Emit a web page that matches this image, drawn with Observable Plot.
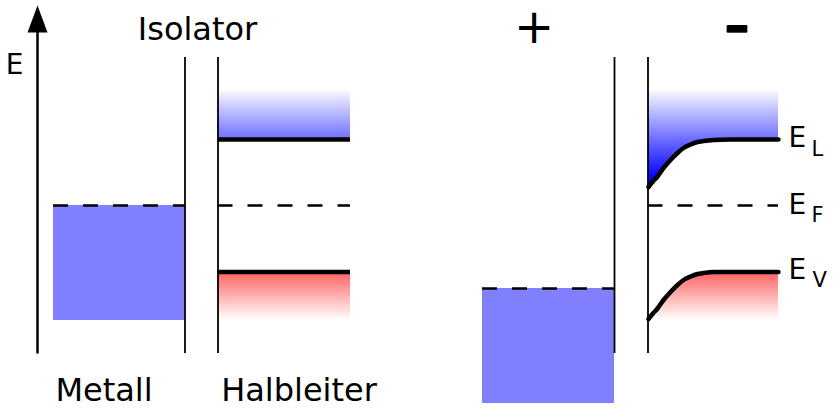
<!DOCTYPE html>
<html><head><meta charset="utf-8">
<script src="https://cdn.jsdelivr.net/npm/d3@7"></script>
<script src="https://cdn.jsdelivr.net/npm/@observablehq/plot@0.6"></script>
<style>body{margin:0;background:#fff}</style>
</head><body><div id="chart"></div>
<script>
// Energy axis "e" (arbitrary units, 0 = foot of the E arrow), position axis "x".
const axisArrow = [{x: 37, e: 0}, {x: 37, e: 320}];
const arrowHead = [{x: 27, e: 320}, {x: 37, e: 347}, {x: 47, e: 320}];

const wallX = [184.5, 217.5, 614, 647.5];
const wallTop = 295, wallBottom = -1;

const metalX1 = [53, 482];
const metalX2 = [184.5, 614];
const metalTop = [147, 64];
const metalBottom = [32, -51];

const fermiX1 = [53, 217.5, 482, 647.5];
const fermiX2 = [184.5, 350, 614, 778];
const fermiE = [147, 147, 64, 147];

// flat bands (left semiconductor)
const flatX1 = 217.5, flatX2 = 350;
const cbFlat = 213, vbFlat = 80.5;
const bandFadeTop = 262, bandFadeBottom = 32;

// bent bands (right semiconductor)
const bentX = [648, 652, 657, 663, 670, 677, 683, 690, 697, 703, 713, 730, 778];
const cbBent = [165.5, 170.5, 176, 184.5, 192.5, 199.5, 204.5, 208, 210.5, 211.5, 212.5, 213, 213];
const vbBent = [33.5, 38.5, 44, 52.5, 60.5, 67.5, 72.5, 76, 78.5, 79.5, 80.5, 80.5, 80.5];

// gradient stops (energy)
const blueFade = [264, 174];
const redFade = [80, 32];

const titleText = ["Isolator", "Metall", "Halbleiter"];
const titleX = [197, 103.5, 298.5];
const titleE = [323, -38, -38];

const axisLabel = [{text: "E", x: 14, e: 287}];
const plusLabel = [{text: "+", x: 533.5, e: 324.5}];
const minusLabel = [{text: "-", x: 736.5, e: 325}];

const bandName = ["E", "E", "E"];
const bandSub = ["L", "F", "V"];
const bandNameE = [214, 147, 82];
const bandSubE = [203, 137, 72.5];
const bandSubX = [811, 811, 812];

const walls = wallX.map(x => ({x}));
const metals = metalX1.map((x1, i) => ({x1, x2: metalX2[i], top: metalTop[i], bottom: metalBottom[i]}));
const fermis = fermiX1.map((x1, i) => ({x1, x2: fermiX2[i], e: fermiE[i]}));
const cbData = bentX.map((x, i) => ({x, e: cbBent[i]}));
const vbData = bentX.map((x, i) => ({x, e: vbBent[i]}));
const titles = titleText.map((text, i) => ({text, x: titleX[i], e: titleE[i]}));
const bandNames = bandName.map((text, i) => ({text, x: 788, e: bandNameE[i]}));
const bandSubs = bandSub.map((text, i) => ({text, x: bandSubX[i], e: bandSubE[i]}));
const font = "DejaVu Sans";

const plot = Plot.plot({
  width: 833, height: 408, margin: 0,
  x: {domain: [0, 833], axis: null},
  y: {domain: [-56, 352], axis: null},
  style: {background: "#fff", overflow: "visible"},
  marks: [
    Plot.rect([{x1: flatX1, x2: flatX2, y1: cbFlat, y2: bandFadeTop}], {x1: "x1", x2: "x2", y1: "y1", y2: "y2", fill: "url(#gBlue)"}),
    Plot.rect([{x1: flatX1, x2: flatX2, y1: bandFadeBottom, y2: vbFlat}], {x1: "x1", x2: "x2", y1: "y1", y2: "y2", fill: "url(#gRed)"}),
    Plot.areaY(cbData, {x: "x", y1: "e", y2: bandFadeTop, fill: "url(#gBlue)", curve: "monotone-x"}),
    Plot.areaY(vbData, {x: "x", y1: bandFadeBottom, y2: "e", fill: "url(#gRed)", curve: "monotone-x"}),
    Plot.rect(metals, {x1: "x1", x2: "x2", y1: "bottom", y2: "top", fill: "#8080ff"}),
    Plot.ruleY(fermis, {x1: "x1", x2: "x2", y: "e", stroke: "#000", strokeWidth: 2.6, strokeDasharray: "15,15"}),
    Plot.ruleX(walls, {x: "x", y1: wallBottom, y2: wallTop, stroke: "#000", strokeWidth: 1.8}),
    Plot.ruleY([cbFlat, vbFlat], {x1: flatX1, x2: flatX2, y: d => d, stroke: "#000", strokeWidth: 4.5}),
    Plot.line(cbData, {x: "x", y: "e", stroke: "#000", strokeWidth: 4.5, curve: "monotone-x", strokeLinecap: "round"}),
    Plot.line(vbData, {x: "x", y: "e", stroke: "#000", strokeWidth: 4.5, curve: "monotone-x", strokeLinecap: "round"}),
    Plot.line(axisArrow, {x: "x", y: "e", stroke: "#000", strokeWidth: 2.5}),
    Plot.line(arrowHead, {x: "x", y: "e", fill: "#000", stroke: "none"}),
    Plot.text(titles, {x: "x", y: "e", text: "text", fontSize: 32, fontFamily: font, fill: "#000"}),
    Plot.text(axisLabel, {x: "x", y: "e", text: "text", fontSize: 28, fontFamily: font, fill: "#000"}),
    Plot.text(plusLabel, {x: "x", y: "e", text: "text", fontSize: 48, fontFamily: font, fill: "#000"}),
    Plot.text(minusLabel, {x: "x", y: "e", text: "text", fontSize: 42, fontWeight: "bold", fontFamily: font, fill: "#000", stroke: "#000", strokeWidth: 1.6}),
    Plot.text(bandNames, {x: "x", y: "e", text: "text", fontSize: 28, textAnchor: "start", fontFamily: font, fill: "#000"}),
    Plot.text(bandSubs, {x: "x", y: "e", text: "text", fontSize: 21, textAnchor: "start", fontFamily: font, fill: "#000"})
  ]
});

const ys = plot.scale("y");
const svg = d3.select(plot.tagName.toLowerCase() === "svg" ? plot : plot.querySelector("svg"));
const defs = svg.insert("defs", ":first-child");
const gB = defs.append("linearGradient").attr("id", "gBlue").attr("gradientUnits", "userSpaceOnUse")
  .attr("x1", 0).attr("x2", 0).attr("y1", ys.apply(blueFade[0])).attr("y2", ys.apply(blueFade[1]));
gB.append("stop").attr("offset", 0).attr("stop-color", "#ffffff");
gB.append("stop").attr("offset", 1).attr("stop-color", "#0000ff");
const gR = defs.append("linearGradient").attr("id", "gRed").attr("gradientUnits", "userSpaceOnUse")
  .attr("x1", 0).attr("x2", 0).attr("y1", ys.apply(redFade[0])).attr("y2", ys.apply(redFade[1]));
gR.append("stop").attr("offset", 0).attr("stop-color", "#ff6262");
gR.append("stop").attr("offset", 1).attr("stop-color", "#ffffff");
// widen the minus sign glyph
svg.selectAll("text").filter(function() { return this.textContent === "-"; })
  .attr("textLength", 25).attr("lengthAdjust", "spacingAndGlyphs");

document.getElementById("chart").append(plot);
</script>
</body></html>
